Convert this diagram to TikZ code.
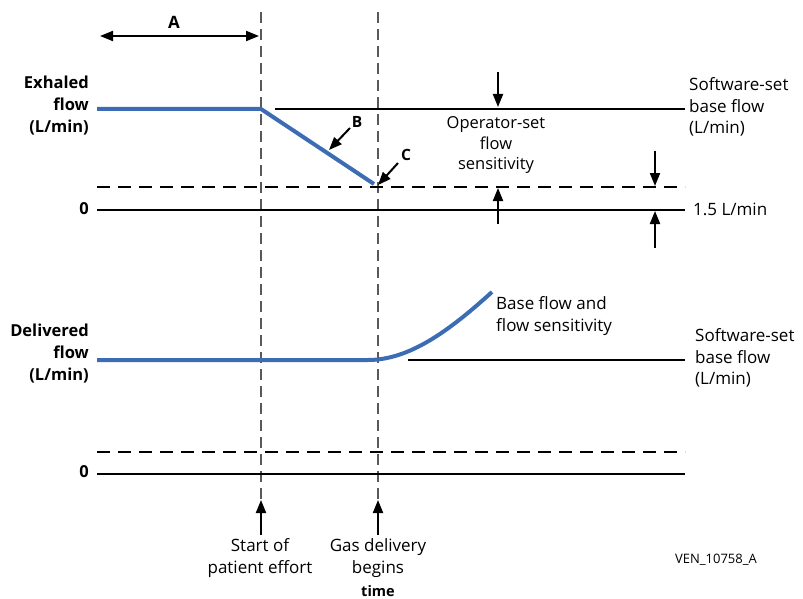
\documentclass[tikz,border=0pt]{standalone}
\usepackage{fontspec}
\setmainfont{Open Sans}
\usetikzlibrary{arrows.meta}
\definecolor{flowblue}{RGB}{59,108,180}
\begin{document}
\begin{tikzpicture}[x=1pt,y=-1pt,
  txt/.style={font=\fontsize{17}{21.5}\selectfont, inner sep=0pt},
  axislbl/.style={font=\bfseries\fontsize{16.5}{22}\selectfont, inner sep=0pt, align=right, anchor=east},
  solidln/.style={line width=2pt},
  dashln/.style={line width=2pt, dash pattern=on 13pt off 8pt},
  guide/.style={line width=1.2pt, draw=black!65, dash pattern=on 11pt off 6pt},
  arr/.style={line width=2pt, -{Triangle[length=13pt,width=10pt]}},
  dblarr/.style={line width=2pt, {Triangle[length=13pt,width=10pt]}-{Triangle[length=13pt,width=10pt]}},
  trace/.style={line width=4pt, draw=flowblue}]
\useasboundingbox (0,0) rectangle (803,599);

% time guides
\coordinate (g1t) at (261,12); \coordinate (g1b) at (261,500);
\coordinate (g2t) at (378,12); \coordinate (g2b) at (378,500);
\draw[guide] (g1t) -- (g1b);
\draw[guide] (g2t) -- (g2b);

% A
\coordinate (aL) at (100,36); \coordinate (aR) at (259,36);
\draw[dblarr] (aL) -- (aR);
\node[font=\bfseries\fontsize{17}{20}\selectfont] (A) at (174,22) {A};

% ---------- Exhaled panel ----------
\node[axislbl] (exlbl) at (89,106) {Exhaled\\flow\\(L/min)};
\node[axislbl] (ex0) at (89,209) {0};
\coordinate (exS) at (97,109); \coordinate (exK) at (261,109); \coordinate (exE) at (374,184);
\draw[trace, line join=miter] (exS) -- (exK) -- (exE);
\coordinate (bfL) at (275,109); \coordinate (bfR) at (685,109);
\draw[solidln] (bfL) -- (bfR);
\draw[dashln] (97,187) -- (685,187);
\draw[solidln] (97,210) -- (685,210);

\node[txt, anchor=west, align=left] (swtop) at (689,107) {Software-set\\base flow\\(L/min)};
\node[txt, align=center, font=\fontsize{16.5}{20}\selectfont] (opset) at (496,145) {Operator-set\\flow\\sensitivity};
\node[txt, anchor=west] (lpm) at (693,209) {1.5 L/min};

\draw[arr] (498,72) -- (498,107);
\draw[arr] (498,224) -- (498,188);
\draw[arr] (655,151) -- (655,186);
\draw[arr] (655,248) -- (655,211);

\node[font=\bfseries\fontsize{15.5}{18}\selectfont] (B) at (357,122) {B};
\node[font=\bfseries\fontsize{15.5}{18}\selectfont] (C) at (406,155) {C};
\draw[arr] (350,128) -- (329,150);
\draw[arr] (398,163) -- (378,185);

% ---------- Delivered panel ----------
\node[axislbl] (dlbl) at (89,354) {Delivered\\flow\\(L/min)};
\node[axislbl] (d0) at (89,472) {0};
\coordinate (dS) at (97,360); \coordinate (dK) at (368,360); \coordinate (dE) at (492,292);
\draw[trace] (dS) -- (dK) .. controls (410,360) and (450,330) .. (dE);
\draw[solidln] (408,360) -- (685,360);
\draw[dashln] (97,452) -- (685,452);
\draw[solidln] (97,474) -- (685,474);

\node[txt, anchor=west, align=left] (bfs) at (496,316) {Base flow and\\flow sensitivity};
\node[txt, anchor=west, align=left] (swbot) at (695,358) {Software-set\\base flow\\(L/min)};

% ---------- bottom ----------
\coordinate (p1) at (261,535); \coordinate (p2) at (378,535);
\draw[arr] (p1) -- (g1b);
\draw[arr] (p2) -- (g2b);
\node[txt, align=center] (start) at (260,558) {Start of\\patient effort};
\node[txt, align=center] (gas) at (378,558) {Gas delivery\\begins};
\node[font=\bfseries\fontsize{14.5}{16}\selectfont] (time) at (378,591) {time};
\node[font=\fontsize{13}{15}\selectfont] (ven) at (716,560) {VEN\_10758\_A};
\end{tikzpicture}
\end{document}
